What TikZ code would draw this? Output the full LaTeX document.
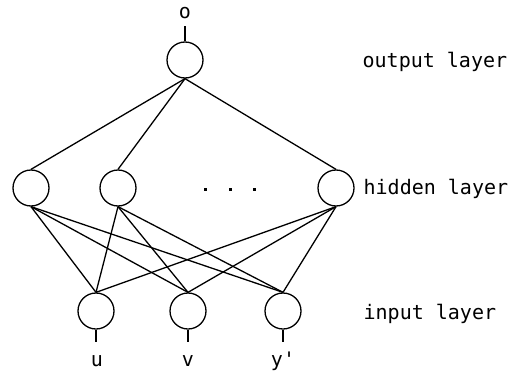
\documentclass[tikz,border=0pt]{standalone}
\usepackage{fontspec}
\setmonofont{DejaVu Sans Mono}
\begin{document}
\begin{tikzpicture}[x=1pt,y=-1pt,line width=1.3pt,
  neuron/.style={circle,draw,minimum size=36pt,inner sep=0pt,line width=1.3pt},
  lbl/.style={font=\ttfamily\fontsize{20}{20}\selectfont,inner sep=0pt},
  dotmark/.style={fill,inner sep=0pt,minimum size=3pt}]
\useasboundingbox (0,0) rectangle (527,372);
% output
\node[neuron] (o) at (185,60) {};
\node[lbl,anchor=base] (ol) at (185,18) {o};
\coordinate (ot) at (185,26);
\draw (o.north) -- (ot);
% hidden
\node[neuron] (h1) at (31,188) {};
\node[neuron] (h2) at (118,188) {};
\node[neuron] (h3) at (336,188) {};
\node[dotmark] (d1) at (205,189) {};
\node[dotmark] (d2) at (230,189) {};
\node[dotmark] (d3) at (254,189) {};
% input
\node[neuron] (i1) at (96,311) {};
\node[neuron] (i2) at (188,311) {};
\node[neuron] (i3) at (283,311) {};
\coordinate (s1) at (96,342);
\coordinate (s2) at (188,342);
\coordinate (s3) at (283,342);
\draw (i1.south) -- (s1);
\draw (i2.south) -- (s2);
\draw (i3.south) -- (s3);
\node[lbl,anchor=base] (lu) at (97,366) {u};
\node[lbl,anchor=base] (lv) at (188,366) {v};
\node[lbl,anchor=base] (ly) at (283,366) {y'};
% connections
\foreach \h in {h1,h2,h3} {
  \draw (o.south) -- (\h.north);
  \foreach \i in {i1,i2,i3} {
    \draw (\h.south) -- (\i.north);
  }
}
% layer labels
\node[lbl,anchor=base west] (lo) at (362,67) {output layer};
\node[lbl,anchor=base west] (lh) at (363,194) {hidden layer};
\node[lbl,anchor=base west] (li) at (363,319) {input layer};
\end{tikzpicture}
\end{document}
